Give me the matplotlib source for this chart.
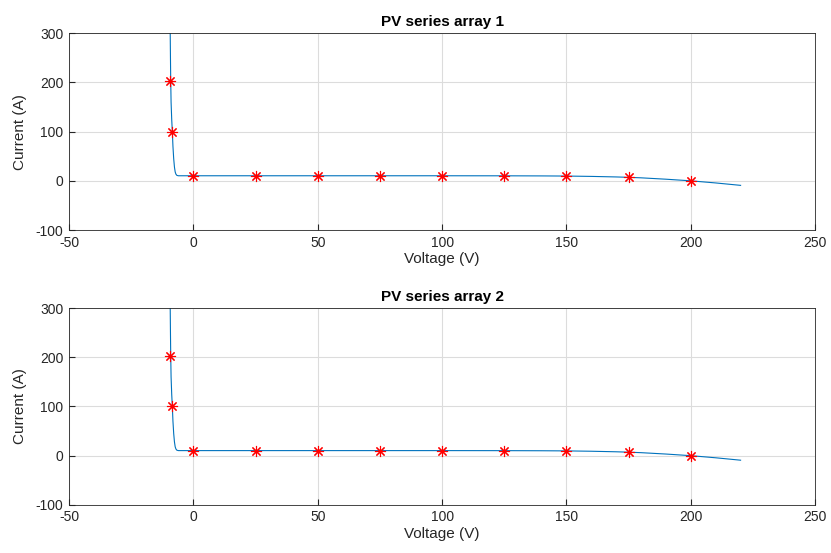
import matplotlib
matplotlib.use('Agg')
import matplotlib.pyplot as plt
import numpy as np

# I-V curve samples (voltage in V, current in A)
curveV = [-9.3, -9.2, -9.1, -8.95, -8.7, -8.45, -8.2, -7.9, -7.6, -7.3, -7.0, -6.6, -6.0,
          0, 50, 100, 125, 140, 150, 160, 170, 175, 180, 190, 200, 210, 220]
curveI = [300, 250, 205, 160, 125, 100, 70, 45, 28, 18, 13.5, 11.0, 10.3,
          10.3, 10.3, 10.3, 10.2, 10.0, 9.7, 9.0, 7.9, 7.1, 6.1, 3.3, 0.0, -4.3, -9.2]

# sampled operating points
pointV = [-9.25, -8.45, 0, 25, 50, 75, 100, 125, 150, 175, 200]
pointI = [203, 100, 10.3, 10.3, 10.3, 10.3, 10.3, 10.2, 9.7, 7.1, 0.0]

titles = ['PV series array 1', 'PV series array 2']

plt.rcParams['font.family'] = ['Liberation Sans', 'DejaVu Sans']
plt.rcParams['axes.unicode_minus'] = False
axcolor = '#262626'

fig = plt.figure(figsize=(8.31, 5.53), dpi=100)
positions = [[0.083, 0.584, 0.898, 0.356], [0.083, 0.087, 0.898, 0.356]]

for pos, title in zip(positions, titles):
    ax = fig.add_axes(pos)
    ax.plot(curveV, curveI, color=(0, 0.447, 0.741), linewidth=0.8)
    # asterisk marker (plus and cross overlaid)
    ax.plot(pointV, pointI, linestyle='none', marker=(8, 2, 0), color='red',
            markersize=8, markeredgewidth=0.8)
    ax.set_xlim(-50, 250)
    ax.set_ylim(-100, 300)
    ax.set_xticks(np.arange(-50, 251, 50))
    ax.set_yticks(np.arange(-100, 301, 100))
    ax.grid(True, color='#dcdcdc', linewidth=0.8)
    ax.set_axisbelow(True)
    ax.tick_params(direction='in', length=4, colors=axcolor, labelsize=10,
                   top=False, right=False, pad=4)
    for s in ax.spines.values():
        s.set_color(axcolor)
        s.set_linewidth(0.6)
    ax.set_xlabel('Voltage (V)', fontsize=11, color=axcolor, labelpad=2)
    ax.set_ylabel('Current (A)', fontsize=11, color=axcolor, labelpad=6)
    ax.set_title(title, fontsize=11, fontweight='bold', pad=5)

fig.savefig('out.png', dpi=100, facecolor='white')
